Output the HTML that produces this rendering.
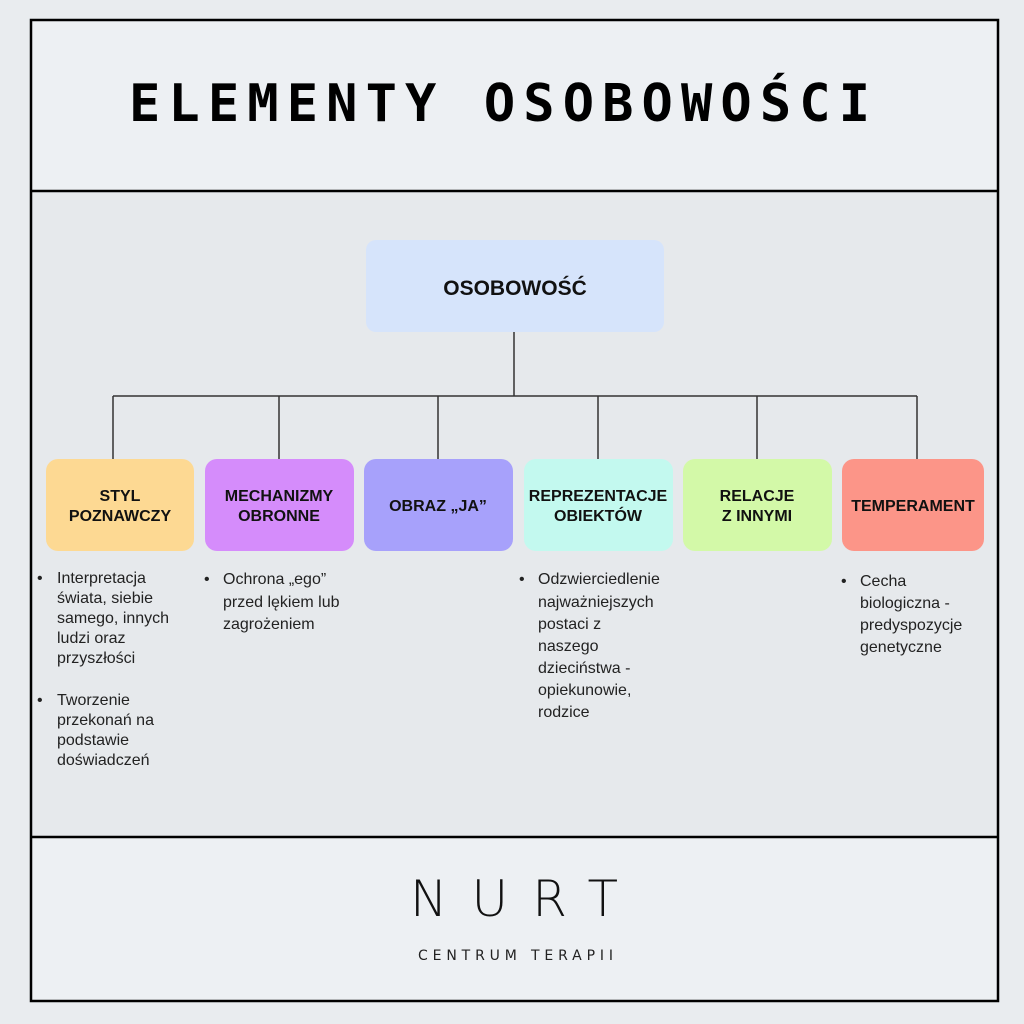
<!DOCTYPE html>
<html><head><meta charset="utf-8"><style>
body{margin:0;background:#e9ecef;}
svg{display:block}
.b{font-family:"Liberation Sans",Arial,sans-serif;font-weight:bold;font-size:16px;fill:#111;text-anchor:middle}
.t{font-family:"Liberation Sans",Arial,sans-serif;font-size:16px;fill:#222}
</style></head><body>
<svg width="1024" height="1024" viewBox="0 0 1024 1024">
<rect width="1024" height="1024" fill="#e9ecef"/>
<rect x="31" y="20" width="967" height="171" fill="#edf0f3"/>
<rect x="31" y="191" width="967" height="646" fill="#e6e9ec"/>
<rect x="31" y="837" width="967" height="164" fill="#edf0f3"/>
<rect x="31" y="20" width="967" height="981" fill="none" stroke="#000" stroke-width="2.5"/>
<line x1="31" y1="191" x2="998" y2="191" stroke="#000" stroke-width="2.5"/>
<line x1="31" y1="837" x2="998" y2="837" stroke="#000" stroke-width="2.5"/>
<text x="129" y="121" textLength="741" lengthAdjust="spacing" style="font-family:'DejaVu Sans Mono',monospace;font-weight:bold;font-size:52px;fill:#000">ELEMENTY OSOBOWOŚCI</text>

<rect x="366" y="240" width="298" height="92" rx="10" fill="#d6e4fb"/>
<text class="b" x="515" y="295" style="font-size:21px">OSOBOWOŚĆ</text>
<g stroke="#333" stroke-width="1.5" fill="none">
<line x1="514" y1="332" x2="514" y2="396"/>
<line x1="113" y1="396" x2="917" y2="396"/>
<line x1="113" y1="396" x2="113" y2="459"/>
<line x1="279" y1="396" x2="279" y2="459"/>
<line x1="438" y1="396" x2="438" y2="459"/>
<line x1="598" y1="396" x2="598" y2="459"/>
<line x1="757" y1="396" x2="757" y2="459"/>
<line x1="917" y1="396" x2="917" y2="459"/>
</g>
<rect x="46" y="459" width="148" height="92" rx="12" fill="#fdd993"/>
<rect x="205" y="459" width="149" height="92" rx="12" fill="#d58cfb"/>
<rect x="364" y="459" width="149" height="92" rx="12" fill="#a7a1fb"/>
<rect x="524" y="459" width="149" height="92" rx="12" fill="#c3f9ef"/>
<rect x="683" y="459" width="149" height="92" rx="12" fill="#d3f9a8"/>
<rect x="842" y="459" width="142" height="92" rx="12" fill="#fc9588"/>
<text class="b" x="120" y="501">STYL</text><text class="b" x="120" y="521">POZNAWCZY</text>
<text class="b" x="279" y="501">MECHANIZMY</text><text class="b" x="279" y="521">OBRONNE</text>
<text class="b" x="438" y="511">OBRAZ „JA”</text>
<text class="b" x="598" y="501">REPREZENTACJE</text><text class="b" x="598" y="521">OBIEKTÓW</text>
<text class="b" x="757" y="501">RELACJE</text><text class="b" x="757" y="521">Z INNYMI</text>
<text class="b" x="913" y="511">TEMPERAMENT</text>

<g class="t">
<text class="t" x="37" y="583">•</text>
<text class="t" x="57" y="583">Interpretacja</text>
<text class="t" x="57" y="603">świata, siebie</text>
<text class="t" x="57" y="623">samego, innych</text>
<text class="t" x="57" y="643">ludzi oraz</text>
<text class="t" x="57" y="663">przyszłości</text>
<text class="t" x="37" y="705">•</text>
<text class="t" x="57" y="705">Tworzenie</text>
<text class="t" x="57" y="725">przekonań na</text>
<text class="t" x="57" y="745">podstawie</text>
<text class="t" x="57" y="765">doświadczeń</text>

<text class="t" x="204" y="584">•</text>
<text class="t" x="223" y="584">Ochrona „ego”</text>
<text class="t" x="223" y="607">przed lękiem lub</text>
<text class="t" x="223" y="629">zagrożeniem</text>

<text class="t" x="519" y="584">•</text>
<text class="t" x="538" y="584">Odzwierciedlenie</text>
<text class="t" x="538" y="607">najważniejszych</text>
<text class="t" x="538" y="629">postaci z</text>
<text class="t" x="538" y="651">naszego</text>
<text class="t" x="538" y="673">dzieciństwa -</text>
<text class="t" x="538" y="695">opiekunowie,</text>
<text class="t" x="538" y="717">rodzice</text>

<text class="t" x="841" y="586">•</text>
<text class="t" x="860" y="586">Cecha</text>
<text class="t" x="860" y="608">biologiczna -</text>
<text class="t" x="860" y="630">predyspozycje</text>
<text class="t" x="860" y="652">genetyczne</text>
</g>

<text x="410" y="916" textLength="208" lengthAdjust="spacing" style="font-family:'DejaVu Sans','Liberation Sans',sans-serif;font-weight:300;font-size:50px;fill:#111">NURT</text>
<text x="418" y="960" textLength="195" lengthAdjust="spacing" style="font-family:'DejaVu Sans','Liberation Sans',sans-serif;font-size:14px;fill:#222">CENTRUM TERAPII</text>
</svg>
</body></html>
